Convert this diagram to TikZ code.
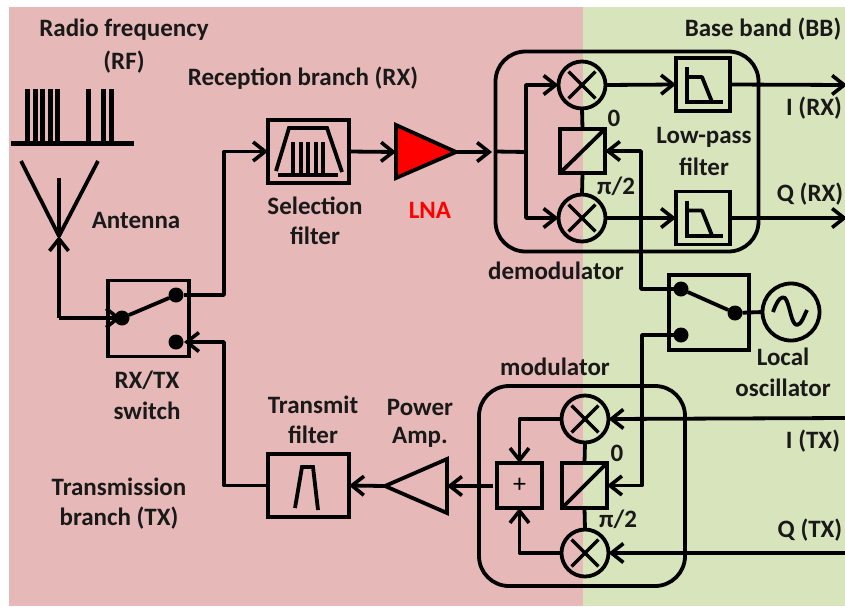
\documentclass[tikz,border=0pt]{standalone}
\usepackage{fontspec}
\setmainfont{Carlito}
\usetikzlibrary{arrows.meta,calc}
\definecolor{rfbg}{HTML}{E6B8B7}
\definecolor{bbbg}{HTML}{D7E4BC}
\tikzset{
  x=1pt,y=-1pt,
  wire/.style={line width=3.8pt,line join=round},
  awire/.style={wire,-{Straight Barb[length=12pt,width=19pt,line width=3.6pt]}},
  block/.style={draw,line width=3.8pt,rectangle,inner sep=0pt,outer sep=0pt,minimum width=#1},
  block/.default=81pt,
  mixer/.style={draw,line width=3.8pt,circle,inner sep=0pt,outer sep=0pt,minimum size=47pt},
  osc/.style={draw,line width=3.8pt,circle,inner sep=0pt,outer sep=0pt,minimum size=57pt},
  frame/.style={draw,line width=3.8pt,rounded corners=30pt,inner sep=0pt,outer sep=0pt},
  contact/.style={fill,circle,inner sep=0pt,outer sep=0pt,minimum size=15pt},
  lab/.style={font=\fontsize{25}{28}\selectfont\bfseries,inner sep=0pt,text=black!90},
  glyph/.style={line width=3.8pt,line join=miter},
}
\begin{document}
\begin{tikzpicture}
\useasboundingbox (0,0) rectangle (845,606);
\fill[white] (0,0) rectangle (845,606);
\fill[rfbg] (9,7) rectangle (583,606);
\fill[bbbg] (583,7) rectangle (845,606);

% spectrum and antenna glyphs
\draw[line width=5pt] (11,143) -- (134,143);
\foreach \bx in {27.5,35,42.5,50,57.5,88,103,111}
  \draw[line width=5pt] (\bx,89) -- (\bx,143);
\coordinate (ant) at (59,236);
\draw[wire] (21,161) -- (ant) -- (98,161);
\draw[wire] (59,178) -- (ant);

% RX/TX switch
\node[block,minimum height=76pt] (sw) at (148.5,318.5) {};
\node[contact] (swc) at (122,318) {};
\node[contact] (swr) at (176,295) {};
\node[contact] (swt) at (176,342) {};
\draw[wire] (swc) -- (swr);

% RX chain
\node[block,minimum height=63pt] (sel) at (308.5,151.5) {};
\draw[glyph] (276,171) -- (289,128) -- (327,128) -- (342,172);
\draw[line width=3.8pt] (278,175) -- (338,175);
\foreach \bx in {293,301,308,316,323}
  \draw[line width=4.5pt] (\bx,142) -- (\bx,175);
\coordinate (lnaa) at (396,125);
\coordinate (lnab) at (396,178);
\coordinate (lnac) at (456,152);
\coordinate (lnain) at (396,152);
\draw[wire,fill=red,line join=miter] (lnaa) -- (lnac) -- (lnab) -- cycle;

% demodulator
\node[frame,minimum width=263pt,minimum height=200pt] (dem) at (627,151.5) {};
\node[mixer] (m1) at (582,85) {};
\node[mixer] (m2) at (582,218) {};
\node[block=45pt,minimum height=44pt] (sp1) at (582.5,151) {};
\draw[wire] (sp1.south west) -- (sp1.north east);
\node[block=54pt,minimum height=53pt] (lp1) at (703,84.5) {};
\node[block=54pt,minimum height=53pt] (lp2) at (703,218) {};
\foreach \dy in {0,133.5}{
  \draw[line width=4pt] (687,67+\dy) -- (687,102+\dy) -- (723,102+\dy);
  \draw[wire] (687,77+\dy) -- (702,77+\dy) -- (712,102+\dy);
}

% local oscillator and its switch
\node[block=80pt,minimum height=75pt] (los) at (709,312.5) {};
\node[contact] (loa) at (681,289) {};
\node[contact] (lob) at (681,335) {};
\node[contact] (loc) at (735,313) {};
\draw[wire] (loa) -- (loc);
\node[osc] (osc) at (791,312) {};
\draw[wire] (773,312) .. controls (778,298) and (782,296) .. (785,298) .. controls (790,304) and (791,325) .. (797,325) .. controls (801,325) and (804,316) .. (807,310);

% modulator
\node[frame,minimum width=206pt,minimum height=200pt] (mod) at (582,486) {};
\node[mixer] (m3) at (585,419) {};
\node[mixer] (m4) at (585,553) {};
\node[block=45pt,minimum height=45pt] (sp2) at (584.5,485.5) {};
\draw[wire] (sp2.south west) -- (sp2.north east);
\node[block=45pt,minimum height=45pt,font=\fontsize{26}{28}\selectfont] (sum) at (519.5,485.5) {+};

\foreach \m in {m1,m2,m3,m4}{
  \draw[line width=3.4pt,shorten <=4.5pt,shorten >=4.5pt] (\m.north west) -- (\m.south east);
  \draw[line width=3.4pt,shorten <=4.5pt,shorten >=4.5pt] (\m.north east) -- (\m.south west);
}

% TX chain
\coordinate (pac) at (447,459);
\coordinate (pad) at (447,513);
\coordinate (pae) at (385,486);
\coordinate (pain) at (447,486);
\draw[wire,line join=miter] (pac) -- (pae) -- (pad) -- cycle;
\node[block,minimum height=63pt] (txf) at (308.5,485.5) {};
\draw[glyph] (295,508) -- (302,467) -- (313,467) -- (318,510);

% connectors
\coordinate (antfoot) at (59,318);
\draw[awire] (antfoot) -- (ant);
\draw[awire] (antfoot) -- ($(swc)+(-1,0)$);
\coordinate (upx) at (224,295);
\draw[awire] (swr.east) -- (upx) |- (sel.west);
\draw[awire] (sel.east) -- (lnain);
\coordinate (demin) at (dem.west);
\draw[awire] (lnac) -- (492,152);
\coordinate (dsplit) at (526,152);
\draw[wire] (demin) -- (dsplit);
\draw[awire] (dsplit) |- (m1.west);
\draw[awire] (dsplit) |- (m2.west);
\draw[wire] (m1.south) -- (sp1.north);
\draw[wire] (m2.north) -- (sp1.south);
\draw[awire] (m1.east) -- (lp1.west);
\draw[awire] (m2.east) -- (lp2.west);
\coordinate (iout) at (847,85);
\coordinate (qout) at (847,218);
\draw[awire] (lp1.east) -- (iout);
\draw[awire] (lp2.east) -- (qout);
\coordinate (lo1) at (641,289);
\draw[awire] (loa.center) -- (lo1) |- (sp1.east);
\coordinate (lo2) at (642,335);
\draw[awire] (lob.center) -- (lo2) |- (sp2.east);
\draw[wire] (loc) -- (osc.west);
\coordinate (iin) at (845,418);
\coordinate (qin) at (845,553);
\draw[awire] (iin) -- (m3.east);
\draw[awire] (qin) -- (m4.east);
\draw[wire] (m3.south) -- (sp2.north);
\draw[wire] (m4.north) -- (sp2.south);
\draw[awire] (m3.west) -| (sum.north);
\draw[awire] (m4.west) -| (sum.south);
\coordinate (sumout) at (493,486);
\draw[awire] (sumout) -- (pain);
\draw[awire] (pae) -- (txf.east);
\coordinate (dnx) at (224,342);
\draw[awire] (txf.west) -| (dnx) -- ($(swt)+(8,0)$);

% labels
\node[lab] (t1) at (124,30) {Radio frequency};
\node[lab] (t2) at (124,62) {(RF)};
\node[lab] (t3) at (303,78) {Reception branch (RX)};
\node[lab] (t4) at (136,220) {Antenna};
\node[lab] (t5) at (315,206) {Selection};
\node[lab] (t6) at (315,236) {filter};
\node[lab,text=red] (t7) at (430,210) {LNA};
\node[lab] (t8) at (763,29) {Base band (BB)};
\node[lab] (t9) at (814,108) {I (RX)};
\node[lab] (t10) at (810,194) {Q (RX)};
\node[lab] (t11) at (614,118) {0};
\node[lab] (t12) at (616,186) {π/2};
\node[lab] (t13) at (704,137) {Low-pass};
\node[lab] (t14) at (704,167) {filter};
\node[lab] (t15) at (556,271) {demodulator};
\node[lab] (t16) at (783,357) {Local};
\node[lab] (t17) at (783,388) {oscillator};
\node[lab] (t18) at (555,367) {modulator};
\node[lab] (t19) at (617,453) {0};
\node[lab] (t20) at (618,519) {π/2};
\node[lab] (t21) at (813,441) {I (TX)};
\node[lab] (t22) at (810,530) {Q (TX)};
\node[lab] (t23) at (313,405) {Transmit};
\node[lab] (t24) at (313,435) {filter};
\node[lab] (t25) at (420,407) {Power};
\node[lab] (t26) at (420,437) {Amp.};
\node[lab] (t27) at (119,487) {Transmission};
\node[lab] (t28) at (119,518) {branch (TX)};
\node[lab] (t29) at (147,380) {RX/TX};
\node[lab] (t30) at (147,411) {switch};
\end{tikzpicture}
\end{document}
